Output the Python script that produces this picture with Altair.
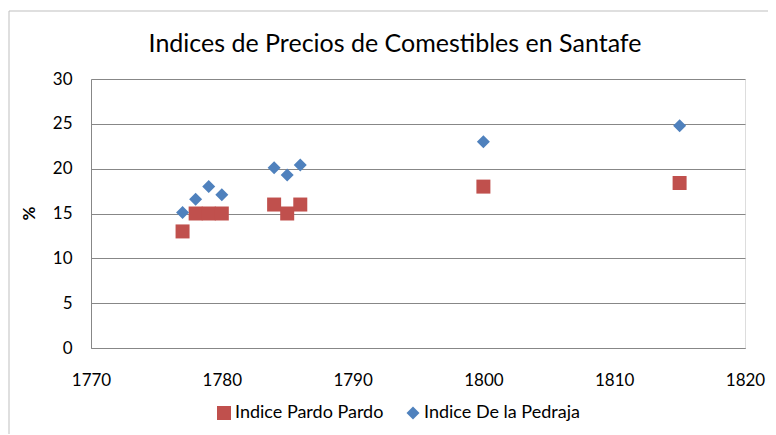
import altair as alt
import pandas as pd

years = [1777, 1778, 1779, 1780, 1784, 1785, 1786, 1800, 1815]
pardo = [13, 15, 15, 15, 16, 15, 16, 18, 18.4]
pedraja = [15.1, 16.6, 18, 17.1, 20.1, 19.3, 20.4, 23, 24.8]

series_names = ["Indice Pardo Pardo", "Indice De la Pedraja"]
colors = ["#C0504D", "#4F81BD"]
shapes = ["square", "diamond"]
sizes = [196, 169]

title_text = "Indices de Precios de Comestibles en Santafe"
x_ticks = [1770, 1780, 1790, 1800, 1810, 1820]
y_ticks = [0, 5, 10, 15, 20, 25, 30]

rows = []
for name, vals in zip(series_names, [pardo, pedraja]):
    for yr, v in zip(years, vals):
        rows.append({"year": yr, "value": v, "series": name})
df = pd.DataFrame(rows)

FONT = "Lato"
GRID = "#878787"

points = alt.Chart(df).mark_point(filled=True, opacity=1).encode(
    x=alt.X("year:Q",
            scale=alt.Scale(domain=[1770, 1820], nice=False, zero=False),
            axis=alt.Axis(values=x_ticks, format="d", title=None, grid=False,
                          ticks=False, tickSize=0, labelPadding=24,
                          labelFontSize=17, labelFont=FONT, labelColor="#000000",
                          domainColor=GRID, labelFlush=False)),
    y=alt.Y("value:Q",
            scale=alt.Scale(domain=[0, 30], nice=False),
            axis=alt.Axis(values=y_ticks, title="%", grid=True, gridColor=GRID,
                          gridWidth=1, ticks=False, tickSize=0, labelPadding=19,
                          labelFontSize=17, labelFont=FONT, labelColor="#000000",
                          domainColor=GRID, titleFont=FONT, titleFontSize=17,
                          titleFontWeight="bold", titleAngle=-90, titleX=-62,
                          titleY=134, titleAlign="center", titleBaseline="middle",
                          titleColor="#000000")),
    color=alt.Color("series:N",
                    scale=alt.Scale(domain=series_names, range=colors),
                    legend=alt.Legend(title=None, orient="none", legendX=124,
                                      legendY=325, direction="horizontal",
                                      labelFont=FONT, labelFontSize=18,
                                      labelColor="#000000", labelOffset=2,
                                      labelLimit=300,
                                      columnPadding=20, symbolStrokeWidth=0)),
    shape=alt.Shape("series:N",
                    scale=alt.Scale(domain=series_names, range=shapes),
                    legend=None),
    size=alt.Size("series:N",
                  scale=alt.Scale(domain=series_names, range=sizes),
                  legend=None),
    order=alt.Order("series:N", sort="descending"),
)

frame_data = alt.Data(values=[{}])
top_border = alt.Chart(frame_data).mark_rule(color="#BFBFBF", strokeWidth=1).encode(
    x=alt.value(-82), x2=alt.value(700), y=alt.value(-68))
left_border = alt.Chart(frame_data).mark_rule(color="#BFBFBF", strokeWidth=1).encode(
    x=alt.value(-82), y=alt.value(-68), y2=alt.value(370))

chart = alt.layer(top_border, left_border, points).properties(
    width=654,
    height=269,
    title=alt.TitleParams(title_text, font=FONT, fontSize=25, fontWeight="normal",
                          color="#000000", anchor="middle", dx=-23, offset=-46),
    autosize=alt.AutoSizeParams(type="none"),
    padding={"left": 83, "top": 71, "right": 23, "bottom": 86},
).configure_view(stroke=None).configure(background="#FFFFFF")

chart.save("out.html", embed_options={"renderer": "svg", "actions": False})
